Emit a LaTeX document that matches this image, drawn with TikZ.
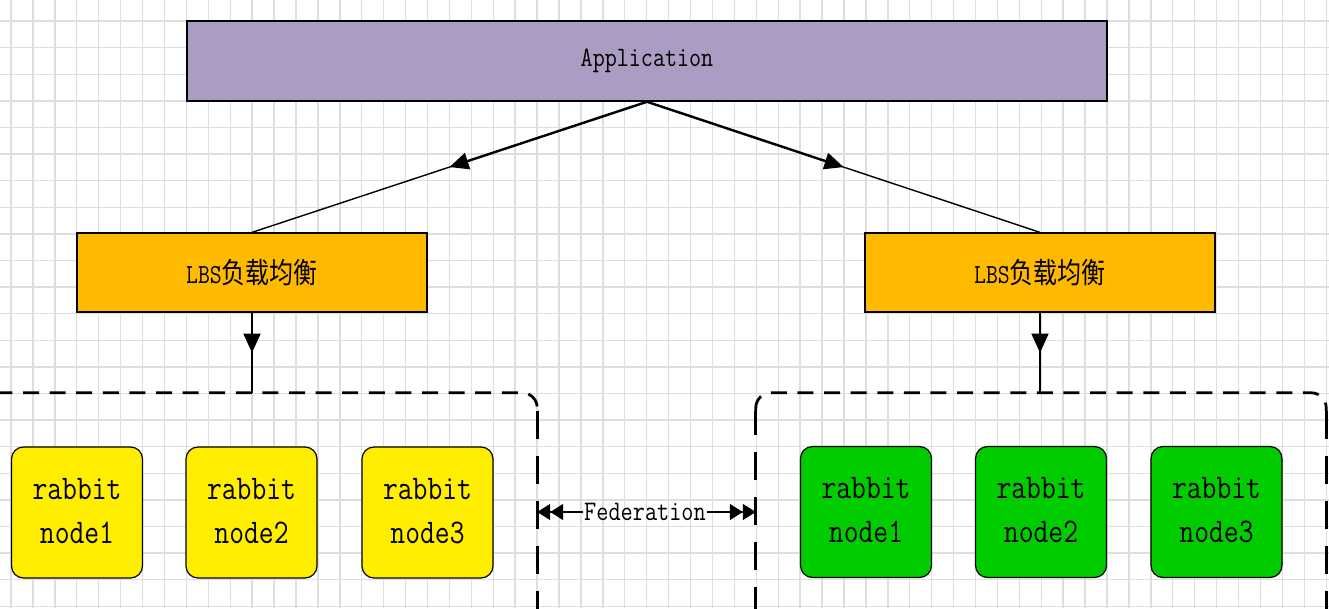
\documentclass[tikz,border=0pt]{standalone}
\usepackage{fontspec}
\newfontfamily\cjk{Noto Sans CJK SC}
\usetikzlibrary{arrows.meta,decorations.markings,calc}
\definecolor{appfill}{RGB}{170,156,194}
\definecolor{lbsfill}{RGB}{255,186,0}
\definecolor{yelfill}{RGB}{255,238,0}
\definecolor{grnfill}{RGB}{0,204,0}
\definecolor{gridc}{RGB}{222,222,222}
\newcommand\vs[1]{\scalebox{1}[1.2]{#1}}
\tikzset{
  gridline/.style={gridc, line width=1.4pt},
  appbox/.style={draw=black, line width=1.6pt, fill=appfill, inner sep=0pt,
    minimum width=920pt, minimum height=80pt,
    font=\fontsize{23.4}{28}\ttfamily},
  lbsbox/.style={draw=black, line width=1.3pt, fill=lbsfill, inner sep=0pt,
    minimum width=350pt, minimum height=79pt,
    font=\fontsize{23}{28}\ttfamily},
  rnode/.style={draw=black, line width=1.2pt, rounded corners=12pt, inner sep=0pt,
    minimum width=131pt, minimum height=131pt,
    font=\fontsize{28.8}{36.5}\ttfamily},
  ynode/.style={rnode, fill=yelfill},
  gnode/.style={rnode, fill=grnfill},
  cont/.style={inner sep=0pt},
  hdash/.style={line width=2.8pt, dash pattern=on 16pt off 10.6pt},
  vdash/.style={line width=2.8pt, dash pattern=on 28pt off 17pt},
  midarrow/.style={line width=1.4pt, postaction={decorate, decoration={markings,
    mark=at position 0.5 with {\arrow{Triangle[length=19pt,width=17pt]}}}}},
  thickhalf/.style={line width=2.4pt},
  fedline/.style={line width=1.4pt,
    -{Triangle[length=13pt,width=16pt]Triangle[length=13pt,width=16pt]}},
  fedlabel/.style={inner sep=1pt, font=\fontsize{23.6}{28}\ttfamily},
}
\begin{document}
\begin{tikzpicture}[x=1pt,y=-1pt]
\useasboundingbox (0,0) rectangle (1329,608);
\clip (0,0) rectangle (1329,608);
\fill[white] (0,0) rectangle (1329,608);
% grid
\foreach \i in {0,...,60} \draw[gridline] ({11+21.92*\i},0) -- ({11+21.92*\i},608);
\foreach \j in {0,...,22} \draw[gridline] (0,{21+26.6*\j}) -- (1329,{21+26.6*\j});

% containers
\node[cont, minimum width=567pt, minimum height=267pt] (c1) at (253.5,526.5) {};
\node[cont, minimum width=570pt, minimum height=267pt] (c2) at (1041,526.5) {};
\draw[hdash, rounded corners=15pt] (c1.north west) -- (c1.north east) -- ($(c1.north east)+(0,18)$);
\draw[vdash] ($(c1.north east)+(0,18)$) -- (c1.south east);
\draw[vdash] (c2.south west) -- ($(c2.north west)+(0,18)$);
\draw[hdash, rounded corners=15pt] ($(c2.north west)+(0,18)$) -- (c2.north west) -- (c2.north east) -- ($(c2.north east)+(0,18)$);
\draw[vdash] ($(c2.north east)+(0,18)$) -- (c2.south east);

% boxes
\node[appbox] (app) at (647,61) {\vs{Application}};
\node[lbsbox] (lbs1) at (252,272.5) {\vs{LBS{\cjk\fontsize{24}{28}\selectfont 负载均衡}}};
\node[lbsbox] (lbs2) at (1040,272.5) {\vs{LBS{\cjk\fontsize{24}{28}\selectfont 负载均衡}}};

\node[ynode] (y1) at (77,512.5) {\vs{\begin{tabular}{@{}c@{}}rabbit\\node1\end{tabular}}};
\node[ynode] (y2) at (251.5,512.5) {\vs{\begin{tabular}{@{}c@{}}rabbit\\node2\end{tabular}}};
\node[ynode] (y3) at (427.5,512.5) {\vs{\begin{tabular}{@{}c@{}}rabbit\\node3\end{tabular}}};
\node[gnode] (g1) at (866,512) {\vs{\begin{tabular}{@{}c@{}}rabbit\\node1\end{tabular}}};
\node[gnode] (g2) at (1041,512) {\vs{\begin{tabular}{@{}c@{}}rabbit\\node2\end{tabular}}};
\node[gnode] (g3) at (1216.5,512) {\vs{\begin{tabular}{@{}c@{}}rabbit\\node3\end{tabular}}};

% connectors
\draw[midarrow] (app.south) -- (lbs1.north);
\draw[thickhalf] (app.south) -- ($(app.south)!0.48!(lbs1.north)$);
\draw[midarrow] (app.south) -- (lbs2.north);
\draw[thickhalf] (app.south) -- ($(app.south)!0.48!(lbs2.north)$);
\draw[midarrow] (lbs1.south) -- (lbs1.south |- c1.north);
\draw[midarrow] (lbs2.south) -- (lbs2.south |- c2.north);

% federation
\node[fedlabel] (fed) at (645,512) {\vs{Federation}};
\coordinate (fl) at (c1.east |- fed.west);
\coordinate (fr) at (c2.west |- fed.east);
\draw[fedline] (fed.west) -- (fl);
\draw[fedline] (fed.east) -- (fr);
\end{tikzpicture}
\end{document}
